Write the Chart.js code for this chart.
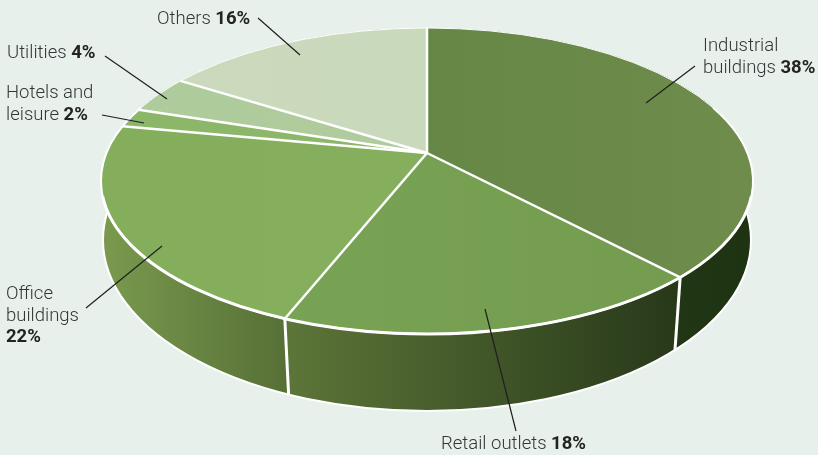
<!DOCTYPE html>
<html>
<head>
<meta charset="utf-8">
<script src="https://cdn.jsdelivr.net/npm/chart.js@4"></script>
<style>
    html, body { margin: 0; padding: 0; background: #e8f0ec; }
    #wrap { position: relative; width: 818px; height: 455px; overflow: hidden; }
    canvas { position: absolute; left: 0; top: 0; }
    .label {
        position: absolute;
        font-family: Roboto, sans-serif;
        font-size: 18.5px;
        font-weight: 300;
        line-height: 21.5px;
        color: #333636;
        white-space: pre;
    }
    .label b { font-weight: 700; color: #232323; }
</style>
</head>
<body>
<div id="wrap"><canvas id="pie" width="818" height="455"></canvas></div>
<script>
const categories = ['Industrial\nbuildings', 'Retail outlets', 'Office\nbuildings\n', 'Hotels and\nleisure', 'Utilities', 'Others'];
const shares = [38, 18, 22, 2, 4, 16];

// top face colours, left and right end of each gradient
const topColors = [
    ['#5c8340', '#6f8c4c'],
    ['#7aa556', '#739b4e'],
    ['#84ae5b', '#88b05f'],
    ['#8cb769', '#8cb769'],
    ['#aecb9b', '#b2cda0'],
    ['#cbdabd', '#c8d8ba']
];
// side wall colours, only the first three are ever visible
const wallColors = [
    ['#2a401b', '#1e3312'],
    ['#5c7538', '#28391a'],
    ['#7a9a4e', '#566f36'],
    ['#7a9a4e', '#7a9a4e'],
    ['#7a9a4e', '#7a9a4e'],
    ['#7a9a4e', '#7a9a4e']
];

// where each label sits and where its leader line runs
const labelPos = [[703, 35], [441, 433], [6, 283], [6, 82], [7, 42], [157, 8]];
const leaders = [
    [695, 66, 646, 103],
    [516, 431, 485, 309],
    [86, 308, 162, 246],
    [102, 115, 144, 123],
    [105, 56, 167, 99],
    [258, 18, 300, 55]
];

// perspective of the two discs: apex position, half axes and foreshortening
const topDisc = { x: 427, y: 153, a: 320.5, b: 147.9, p: -0.183, cy: 181, rx: 326, ry: 153 };
const lowDisc = { x: 427, y: 212.6, a: 320, b: 166.6, p: -0.16, cy: 240, rx: 324, ry: 171 };
const overdraw = 1.35;

function rimPoint(disc, angle) {
    const den = 1 + disc.p * Math.sin(angle);
    return [disc.x + disc.a * Math.cos(angle) / den, disc.y + disc.b * Math.sin(angle) / den];
}

function sideGradient(ctx, colors, left, right) {
    const g = ctx.createLinearGradient(left, 0, right, 0);
    g.addColorStop(0, colors[0]);
    g.addColorStop(1, colors[1]);
    return g;
}

const disc3d = {
    id: 'disc3d',
    beforeDatasetsDraw(chart) {
        const ctx = chart.ctx;
        const arcs = chart.getDatasetMeta(0).data;

        // side wall, one piece per slice, the top face covers the back part later
        arcs.forEach((arc, i) => {
            const steps = 80;
            const top = [], low = [];
            for (let s = 0; s <= steps; s++) {
                const angle = arc.startAngle + (arc.endAngle - arc.startAngle) * s / steps;
                top.push(rimPoint(topDisc, angle));
                low.push(rimPoint(lowDisc, angle));
            }
            const xs = low.map(q => q[0]);
            ctx.beginPath();
            top.forEach((q, n) => n ? ctx.lineTo(q[0], q[1]) : ctx.moveTo(q[0], q[1]));
            low.reverse().forEach(q => ctx.lineTo(q[0], q[1]));
            ctx.closePath();
            ctx.fillStyle = sideGradient(ctx, wallColors[i], Math.min(...xs), Math.max(...xs));
            ctx.fill();
        });

        ctx.strokeStyle = '#ffffff';
        ctx.lineWidth = 2;
        ctx.beginPath();
        ctx.ellipse(lowDisc.x, lowDisc.cy, lowDisc.rx, lowDisc.ry, 0, 0, Math.PI * 2);
        ctx.stroke();

        ctx.lineWidth = 3;
        arcs.forEach(arc => {
            const t = rimPoint(topDisc, arc.startAngle);
            const b = rimPoint(lowDisc, arc.startAngle);
            ctx.beginPath();
            ctx.moveTo(t[0], t[1]);
            ctx.lineTo(b[0], b[1]);
            ctx.stroke();
        });

        // the pie itself goes through a squash around the apex, cut down to the top ellipse
        const arc = arcs[0];
        const R = arc.outerRadius;
        ctx.save();
        ctx.beginPath();
        ctx.ellipse(topDisc.x, topDisc.cy, topDisc.rx, topDisc.ry, 0, 0, Math.PI * 2);
        ctx.clip();
        ctx.translate(topDisc.x, topDisc.y);
        ctx.scale(topDisc.a * overdraw / R, topDisc.b * overdraw / R);
        ctx.translate(-arc.x, -arc.y);
    },
    afterDatasetsDraw(chart) {
        const ctx = chart.ctx;
        ctx.restore();

        ctx.strokeStyle = '#ffffff';
        ctx.lineWidth = 2.5;
        chart.getDatasetMeta(0).data.forEach(arc => {
            const t = rimPoint(topDisc, arc.startAngle);
            ctx.beginPath();
            ctx.moveTo(topDisc.x, topDisc.y);
            ctx.lineTo(t[0], t[1]);
            ctx.stroke();
        });

        // rim: hairline along the back, heavier towards the front edge
        [[1, 0, Math.PI * 2], [2, -0.5, Math.PI + 0.5], [3, 0.1, Math.PI - 0.1]].forEach(rim => {
            ctx.lineWidth = rim[0];
            ctx.beginPath();
            ctx.ellipse(topDisc.x, topDisc.cy, topDisc.rx, topDisc.ry, 0, rim[1], rim[2]);
            ctx.stroke();
        });

        ctx.strokeStyle = '#1f1f1f';
        ctx.lineWidth = 1.2;
        leaders.forEach(l => {
            ctx.beginPath();
            ctx.moveTo(l[0], l[1]);
            ctx.lineTo(l[2], l[3]);
            ctx.stroke();
        });
    }
};

new Chart(document.getElementById('pie'), {
    type: 'pie',
    data: {
        labels: categories,
        datasets: [{
            data: shares,
            borderWidth: 0,
            clip: false,
            backgroundColor: function(context) {
                const c = context.chart;
                const cx = c.width / 2;
                const half = c.height * 0.38;
                return sideGradient(c.ctx, topColors[context.dataIndex], cx - half, cx + half);
            }
        }]
    },
    options: {
        responsive: false,
        animation: false,
        events: [],
        plugins: { legend: { display: false }, tooltip: { enabled: false } }
    },
    plugins: [disc3d]
});

const wrap = document.getElementById('wrap');
categories.forEach((name, i) => {
    const div = document.createElement('div');
    div.className = 'label';
    div.style.left = labelPos[i][0] + 'px';
    div.style.top = labelPos[i][1] + 'px';
    div.textContent = name.endsWith('\n') ? name : name + ' ';
    const b = document.createElement('b');
    b.textContent = shares[i] + '%';
    div.appendChild(b);
    wrap.appendChild(div);
});
</script>
</body>
</html>
